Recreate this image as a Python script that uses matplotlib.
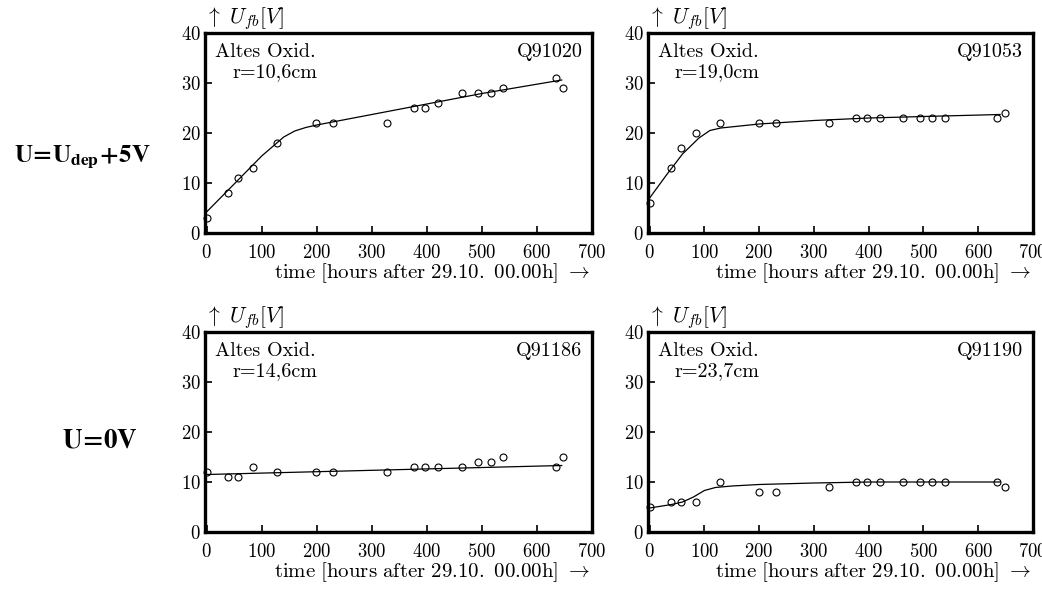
import matplotlib
matplotlib.use("Agg")
from matplotlib import pyplot as plt

plt.rcParams['font.family'] = 'cmr10'
plt.rcParams['mathtext.fontset'] = 'cm'
plt.rcParams['axes.formatter.use_mathtext'] = True

# measurement times [hours after 29.10. 00.00h]
hours = [0, 39, 57, 85, 128, 199, 230, 327, 376, 396, 421, 463, 493, 516, 539, 634, 648]

# flatband voltages per sample
u_q91020 = [3, 8, 11, 13, 18, 22, 22, 22, 25, 25, 26, 28, 28, 28, 29, 31, 29]
u_q91053 = [6, 13, 17, 20, 22, 22, 22, 22, 23, 23, 23, 23, 23, 23, 23, 23, 24]
u_q91186 = [12, 11, 11, 13, 12, 12, 12, 12, 13, 13, 13, 13, 14, 14, 15, 13, 15]
u_q91190 = [5, 6, 6, 6, 10, 8, 8, 9, 10, 10, 10, 10, 10, 10, 10, 10, 9]

# fit curves
fit_x_q91020 = [-2, 50, 100, 140, 160, 180, 200, 300, 400, 500, 645]
fit_y_q91020 = [4.0, 9.8, 15.4, 19.2, 20.4, 21.1, 21.6, 23.7, 25.8, 27.9, 30.6]
fit_x_q91053 = [0, 30, 60, 90, 110, 130, 200, 300, 400, 500, 640]
fit_y_q91053 = [7.0, 11.5, 15.8, 19.0, 20.5, 21.0, 21.8, 22.5, 23.0, 23.3, 23.7]
fit_x_q91186 = [0, 645]
fit_y_q91186 = [11.5, 13.3]
fit_x_q91190 = [0, 40, 60, 80, 100, 120, 150, 200, 300, 400, 640]
fit_y_q91190 = [4.8, 5.5, 6.0, 7.0, 8.3, 8.9, 9.2, 9.5, 9.8, 10.0, 10.0]

samples = ["Q91020", "Q91053", "Q91186", "Q91190"]
radii = ["r=10,6cm", "r=19,0cm", "r=14,6cm", "r=23,7cm"]
values = [u_q91020, u_q91053, u_q91186, u_q91190]
fits = [(fit_x_q91020, fit_y_q91020), (fit_x_q91053, fit_y_q91053),
        (fit_x_q91186, fit_y_q91186), (fit_x_q91190, fit_y_q91190)]

fig = plt.figure(figsize=(10.42, 5.90), dpi=100)

W, H = 1042.0, 590.0
# pixel boxes: left, right, top, bottom
boxes = [(205, 592, 33, 233), (648, 1033, 33, 233),
         (205, 592, 332, 532), (648, 1033, 332, 532)]

for i, (l, r, t, b) in enumerate(boxes):
    ax = fig.add_axes([l / W, 1 - b / H, (r - l) / W, (b - t) / H])
    fx, fy = fits[i]
    ax.plot(fx, fy, '-', color='black', linewidth=0.9)
    ax.plot(hours, values[i], 'o', markerfacecolor='none', markeredgecolor='black',
            markersize=5, markeredgewidth=0.8, clip_on=False)
    ax.set_xlim(-3, 700)
    ax.set_ylim(0, 40)
    ax.set_xticks(range(0, 701, 100))
    ax.set_yticks(range(0, 41, 10))
    ax.tick_params(direction='in', length=5, width=1.2, labelsize=13.5,
                   top=False, right=False)
    ax.tick_params(axis='x', pad=8)
    ax.tick_params(axis='y', pad=3)
    for s in ax.spines.values():
        s.set_linewidth(2.4)
    ax.text(0.025, 0.905, "Altes Oxid.", transform=ax.transAxes, fontsize=14.5,
            ha='left', va='center')
    ax.text(0.07, 0.805, radii[i], transform=ax.transAxes, fontsize=14.5,
            ha='left', va='center')
    ax.text(0.975, 0.905, samples[i], transform=ax.transAxes, fontsize=14.5,
            ha='right', va='center')
    ax.text(0.0, 1.005, r"$\uparrow\ U_{fb}[V]$", transform=ax.transAxes,
            fontsize=15.5, ha='left', va='bottom')
    fig.text((r - 2) / W, 1 - (b + 40) / H,
             r"$\mathrm{time}\ [\mathrm{hours\ after\ 29.10.\ 00.00h}]\ \rightarrow$",
             fontsize=15, ha='right', va='center')

fig.text(82 / W, 1 - 157 / H, r"$\mathbf{U\!=\!U_{dep}\!+\!5V}$", fontsize=18,
         ha='center', va='center', math_fontfamily='stix')
fig.text(100 / W, 1 - 441 / H, r"$\mathbf{U\!=\!0V}$", fontsize=19.5,
         ha='center', va='center', math_fontfamily='stix')

plt.savefig("out.png", dpi=100)
